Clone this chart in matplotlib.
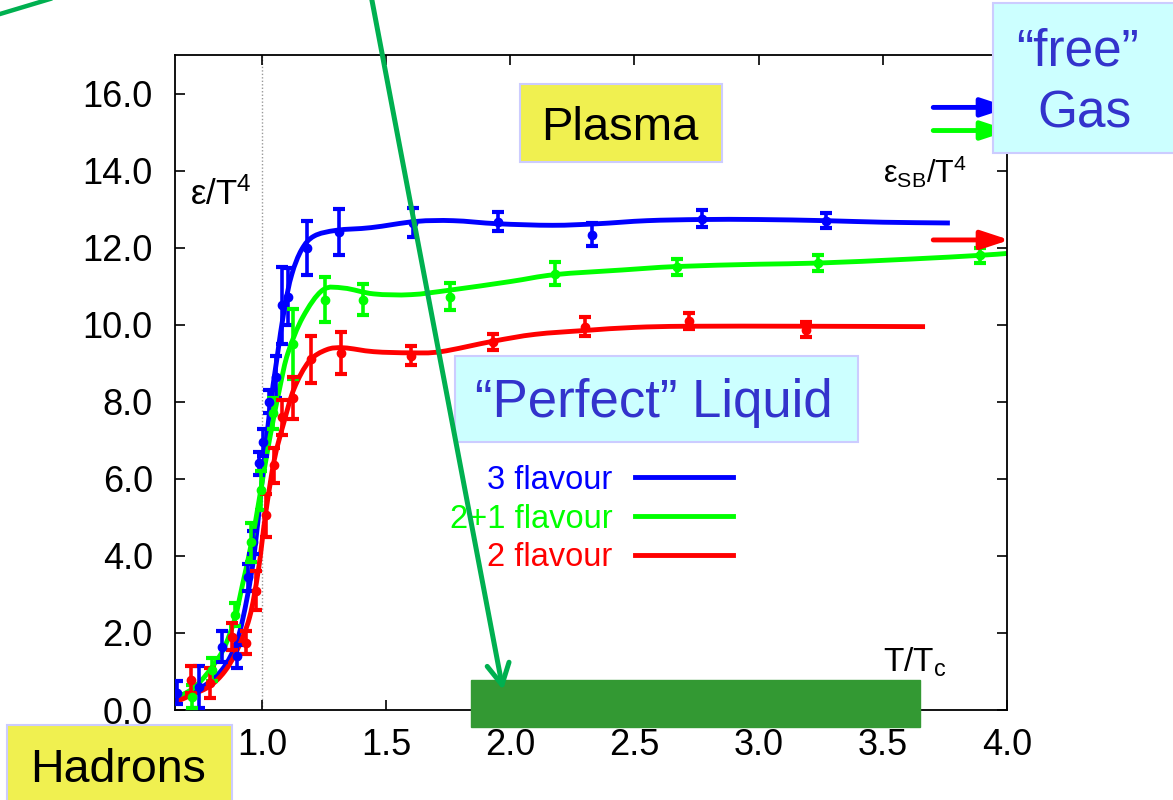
import numpy as np
import matplotlib.pyplot as plt
from matplotlib.path import Path
from matplotlib.patches import PathPatch, Rectangle, FancyArrowPatch
from matplotlib.lines import Line2D

plt.rcParams['font.family'] = ['Liberation Sans', 'DejaVu Sans']
plt.rcParams['mathtext.fontset'] = 'custom'
plt.rcParams['mathtext.rm'] = 'Liberation Sans'
plt.rcParams['mathtext.it'] = 'Liberation Sans:italic'

W, H = 1173, 800

# lattice results: T/Tc, eps/T^4 and its error
t3 = [0.66, 0.747, 0.84, 0.90, 0.944, 0.964, 0.99, 1.005, 1.03, 1.057, 1.08, 1.105, 1.18, 1.31,
      1.61, 1.95, 2.33, 2.77, 3.27]
e3 = [0.45, 0.6, 1.64, 1.4, 3.45, 4.35, 6.4, 6.95, 8.0, 8.65, 10.5, 10.73, 12.0, 12.4,
      12.65, 12.67, 12.34, 12.75, 12.7]
d3 = [0.3, 0.55, 0.4, 0.3, 0.35, 0.3, 0.3, 0.35, 0.3, 0.55, 1.0, 0.75, 0.7, 0.6,
      0.38, 0.25, 0.3, 0.22, 0.2]

t21 = [0.72, 0.80, 0.89, 0.956, 0.996, 1.045, 1.125, 1.254, 1.407, 1.757, 2.18, 2.67, 3.24, 3.89]
e21 = [0.35, 1.05, 2.47, 4.35, 5.7, 7.7, 9.5, 10.65, 10.65, 10.73, 11.32, 11.5, 11.6, 11.8]
d21 = [0.3, 0.3, 0.3, 0.5, 0.5, 0.4, 0.9, 0.58, 0.4, 0.35, 0.3, 0.2, 0.2, 0.2]

t2 = [0.714, 0.79, 0.88, 0.936, 0.976, 1.017, 1.05, 1.08, 1.125, 1.197, 1.32, 1.60, 1.93,
      2.30, 2.72, 3.19]
e2 = [0.78, 0.7, 1.9, 1.75, 3.1, 5.05, 6.35, 7.6, 8.1, 9.1, 9.27, 9.2, 9.55, 9.95, 10.1, 9.87]
d2 = [0.35, 0.4, 0.35, 0.3, 0.5, 0.55, 0.45, 0.45, 0.55, 0.6, 0.55, 0.25, 0.2, 0.25, 0.2, 0.2]

# fit curves, knots along each line
f3_t = [0.65, 0.75, 0.84, 0.90, 0.94, 0.97, 1.00, 1.03, 1.06, 1.09, 1.12, 1.16, 1.21, 1.30,
        1.44, 1.62, 1.77, 1.95, 2.17, 2.35, 2.55, 2.77, 3.0, 3.27, 3.5, 3.77]
f3_e = [0.25, 0.55, 1.05, 1.8, 2.9, 4.1, 5.9, 7.7, 9.1, 10.4, 11.3, 11.95, 12.3, 12.45,
        12.52, 12.68, 12.7, 12.62, 12.58, 12.62, 12.7, 12.73, 12.73, 12.7, 12.66, 12.64]

f21_t = [0.65, 0.72, 0.78, 0.843, 0.89, 0.92, 0.96, 0.99, 1.03, 1.073, 1.105, 1.165, 1.245,
         1.33, 1.45, 1.6, 1.76, 2.0, 2.18, 2.45, 2.67, 3.0, 3.24, 3.6, 3.89, 4.0]
f21_e = [0.3, 0.55, 0.95, 1.55, 2.35, 3.2, 4.4, 5.5, 7.0, 8.4, 9.27, 10.2, 10.9,
         10.95, 10.8, 10.78, 10.9, 11.12, 11.3, 11.42, 11.51, 11.57, 11.6, 11.7, 11.8, 11.85]

f2_t = [0.65, 0.72, 0.79, 0.85, 0.90, 0.95, 0.985, 1.015, 1.05, 1.09, 1.13, 1.19, 1.26, 1.33,
        1.45, 1.6, 1.72, 1.93, 2.1, 2.3, 2.5, 2.72, 3.19, 3.67]
f2_e = [0.2, 0.4, 0.62, 1.0, 1.55, 2.4, 3.6, 5.1, 6.5, 7.5, 8.35, 9.05, 9.35, 9.4,
        9.3, 9.27, 9.3, 9.57, 9.75, 9.85, 9.93, 9.96, 9.96, 9.95]

# Stefan-Boltzmann limits
sb_limits = [15.64, 15.04, 12.2]

labels = ['3 flavour', '2+1 flavour', '2 flavour']
colors = ['#0000ff', '#00ff00', '#ff0000']
points = [(t3, e3, d3), (t21, e21, d21), (t2, e2, d2)]
fits = [(f3_t, f3_e), (f21_t, f21_e), (f2_t, f2_e)]

bar_span = (1.84, 3.65)


def smooth_path(xs, ys):
    # Catmull-Rom through the knots, as cubic Bezier pieces
    p = np.column_stack([xs, ys])
    ext = np.vstack([2 * p[0] - p[1], p, 2 * p[-1] - p[-2]])
    verts = [p[0]]
    codes = [Path.MOVETO]
    for i in range(1, len(ext) - 2):
        c1 = ext[i] + (ext[i + 1] - ext[i - 1]) / 6
        c2 = ext[i + 1] - (ext[i + 2] - ext[i]) / 6
        verts += [c1, c2, ext[i + 1]]
        codes += [Path.CURVE4] * 3
    return Path(verts, codes)


def fpos(x, y):
    return (x / W, 1 - y / H)


fig = plt.figure(figsize=(W / 100, H / 100), dpi=100)
ax = fig.add_axes([175 / W, 1 - 710 / H, 832 / W, 655 / H])

ax.axvline(1.0, color='#999999', ls=(0, (1, 1.5)), lw=1, zorder=0)

handles = []
for (t, e, d), (ft, fe), c, lab in zip(points, fits, colors, labels):
    ax.add_patch(PathPatch(smooth_path(ft, fe), fill=False, ec=c, lw=3.5, zorder=2))
    ax.errorbar(t, e, yerr=d, fmt='o', color=c, ms=6, elinewidth=2.6,
                capsize=4, capthick=3, zorder=3)
    handles.append(Line2D([], [], color=c, lw=3.5))

for val, c in zip(sb_limits, colors):
    ax.annotate('', xy=(4.01, val), xytext=(3.703, val), annotation_clip=False,
                arrowprops=dict(arrowstyle='-|>,head_length=0.85,head_width=0.28',
                                mutation_scale=20, color=c, lw=3.5, shrinkA=0, shrinkB=0))

ax.add_patch(Rectangle((bar_span[0], -0.44), bar_span[1] - bar_span[0], 1.22,
                       color='#339933', clip_on=False, zorder=4))

ax.set_xlim(0.65, 4.0)
ax.set_ylim(0, 17)
ax.set_xticks(np.arange(1.0, 4.01, 0.5))
ax.set_yticks(np.arange(0, 16.1, 2))
ax.xaxis.set_major_formatter('{x:.1f}')
ax.yaxis.set_major_formatter('{x:.1f}')
ax.tick_params(direction='in', length=7, width=1.2, top=True, right=True, labelsize=26)
ax.tick_params(axis='x', pad=13)
ax.tick_params(axis='y', pad=16)
for s in ax.spines.values():
    s.set_linewidth(1.3)

ax.text(0.018, 0.772, r'ε/T$^4$', transform=ax.transAxes, fontsize=25, va='baseline')
ax.text(0.851, 0.805, r'ε$_{\rm SB}$/T$^4$', transform=ax.transAxes, fontsize=22, va='baseline')
ax.text(0.851, 0.058, r'T/T$_{\rm c}$', transform=ax.transAxes, fontsize=24, va='baseline')

leg = ax.legend(handles, labels, loc='center right', bbox_to_anchor=fpos(733, 519),
                bbox_transform=fig.transFigure, frameon=False, markerfirst=False,
                fontsize=23.5, handlelength=3.0, handletextpad=0.7, labelspacing=0.24,
                borderpad=0, borderaxespad=0, labelcolor='linecolor')

# labelled boxes
def fig_box(x0, y0, x1, y1, fc):
    fig.add_artist(Rectangle((x0 / W, 1 - y1 / H), (x1 - x0) / W, (y1 - y0) / H,
                             transform=fig.transFigure, fc=fc, ec='#ccccff', lw=1.5,
                             zorder=5))


fig_box(520, 84, 722, 162, '#f0f050')
fig.text(*fpos(620, 140), 'Plasma', ha='center', va='baseline', fontsize=34, zorder=6)

fig_box(455, 356, 858, 442, '#ccffff')
fig.text(*fpos(654, 417), '“Perfect” Liquid', ha='center', va='baseline', fontsize=38,
         color='#3333cc', zorder=6)

fig_box(993, 3, 1185, 153, '#ccffff')
fig.text(*fpos(1078, 65), '“free”', ha='center', va='baseline', fontsize=37,
         color='#3333cc', zorder=6)
fig.text(*fpos(1085, 128), 'Gas', ha='center', va='baseline', fontsize=37,
         color='#3333cc', zorder=6)

fig_box(7, 725, 232, 810, '#f0f050')
fig.text(*fpos(118, 782), 'Hadrons', ha='center', va='baseline', fontsize=33.5, zorder=6)

# green pointers
fig.add_artist(FancyArrowPatch(fpos(370, -10), fpos(503, 690), transform=fig.transFigure,
                               arrowstyle='->,head_length=0.75,head_width=0.4',
                               mutation_scale=20, color='#00b050', lw=3.6,
                               shrinkA=0, shrinkB=0, capstyle='round', zorder=7))
fig.add_artist(Line2D([-5 / W, 55 / W], [1 - 15.5 / H, 1 + 2.5 / H], transform=fig.transFigure,
                      color='#00b050', lw=3.2, zorder=7))

fig.savefig('out.png', dpi=100)
